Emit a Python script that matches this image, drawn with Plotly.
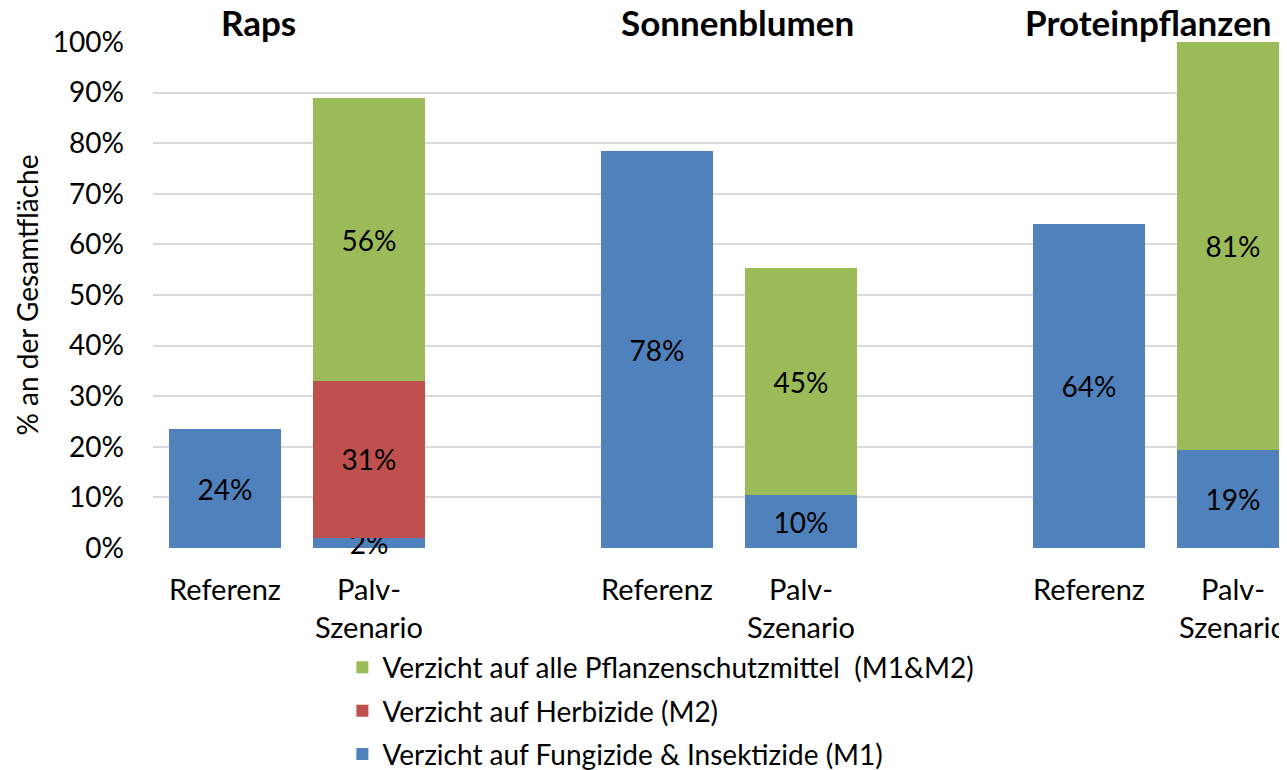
import plotly.graph_objects as go

groups = ['Raps', 'Sonnenblumen', 'Proteinpflanzen']
scenarios = ['Referenz', 'Palv-<br>Szenario']

# % an der Gesamtfläche, order: Raps Ref, Raps Palv, Sonnen Ref, Sonnen Palv, Protein Ref, Protein Palv
m1_values = [23.5, 2.0, 78.4, 10.4, 64.0, 19.4]
m2_values = [None, 31.0, None, None, None, None]
m12_values = [None, 55.9, None, 45.0, None, 80.6]

series_names = ['Verzicht auf Fungizide & Insektizide (M1)',
                'Verzicht auf Herbizide (M2)',
                'Verzicht auf alle Pflanzenschutzmittel  (M1&M2)']
colors = ['#4F81BD', '#C0504D', '#9BBB59']
y_ticks = [0, 10, 20, 30, 40, 50, 60, 70, 80, 90, 100]

FONT = 'Lato'

x_pos = []
x_labels = []
for g in range(len(groups)):
    for s in range(len(scenarios)):
        x_pos.append(g * 3 + s)
        x_labels.append(scenarios[s])

fig = go.Figure()
for i, (name, vals, col) in enumerate(zip(series_names, [m1_values, m2_values, m12_values], colors)):
    fig.add_trace(go.Bar(
        x=x_pos, y=vals, name=name, marker_color=col,
        marker_line_width=0, width=0.778,
        legendgroup='g%d' % i, legendrank=3 - i,
        texttemplate='%{y:.0f}%', textposition='inside',
        insidetextanchor='middle', constraintext='none', cliponaxis=False,
        textfont=dict(size=28, color='black', family=FONT),
    ))

# group titles
title_x = [0.23, 3.56, 6.41]
for gx, gname in zip(title_x, groups):
    fig.add_annotation(x=gx, xref='x', y=1.04, yref='paper', text='<b>' + gname + '</b>',
                       showarrow=False, yanchor='middle',
                       font=dict(size=35, family=FONT, color='black'))

# page body has an 8px margin, so the figure is a bit smaller than the window
fig.update_layout(
    barmode='stack',
    width=1279, height=762,
    margin=dict(l=145, r=0, t=34, b=222, autoexpand=False),
    plot_bgcolor='white', paper_bgcolor='white',
    font=dict(family=FONT, size=28, color='black'),
    uniformtext=dict(minsize=28, mode='show'),
    showlegend=True,
    legend=dict(x=0.167, xanchor='left', y=-0.187, yanchor='top',
                traceorder='grouped', tracegroupgap=4,
                font=dict(size=28, family=FONT),
                bgcolor='rgba(0,0,0,0)', itemclick=False),
    xaxis=dict(range=[-0.5, 7.375], tickvals=x_pos, ticktext=x_labels,
               showgrid=False, zeroline=False, showline=False, automargin=False,
               ticks='', ticklabelstandoff=22, tickfont=dict(size=29)),
    yaxis=dict(range=[0, 100], tickvals=y_ticks, ticktext=[f'{v}%' for v in y_ticks],
               showgrid=True, gridcolor='#D9D9D9', gridwidth=2, automargin=False,
               zeroline=False, showline=False, ticks='', ticklabelstandoff=28,
               tickfont=dict(size=28),
               title=dict(text='% an der Gesamtfläche', font=dict(size=28), standoff=6)),
)

fig.write_html('out.html')
